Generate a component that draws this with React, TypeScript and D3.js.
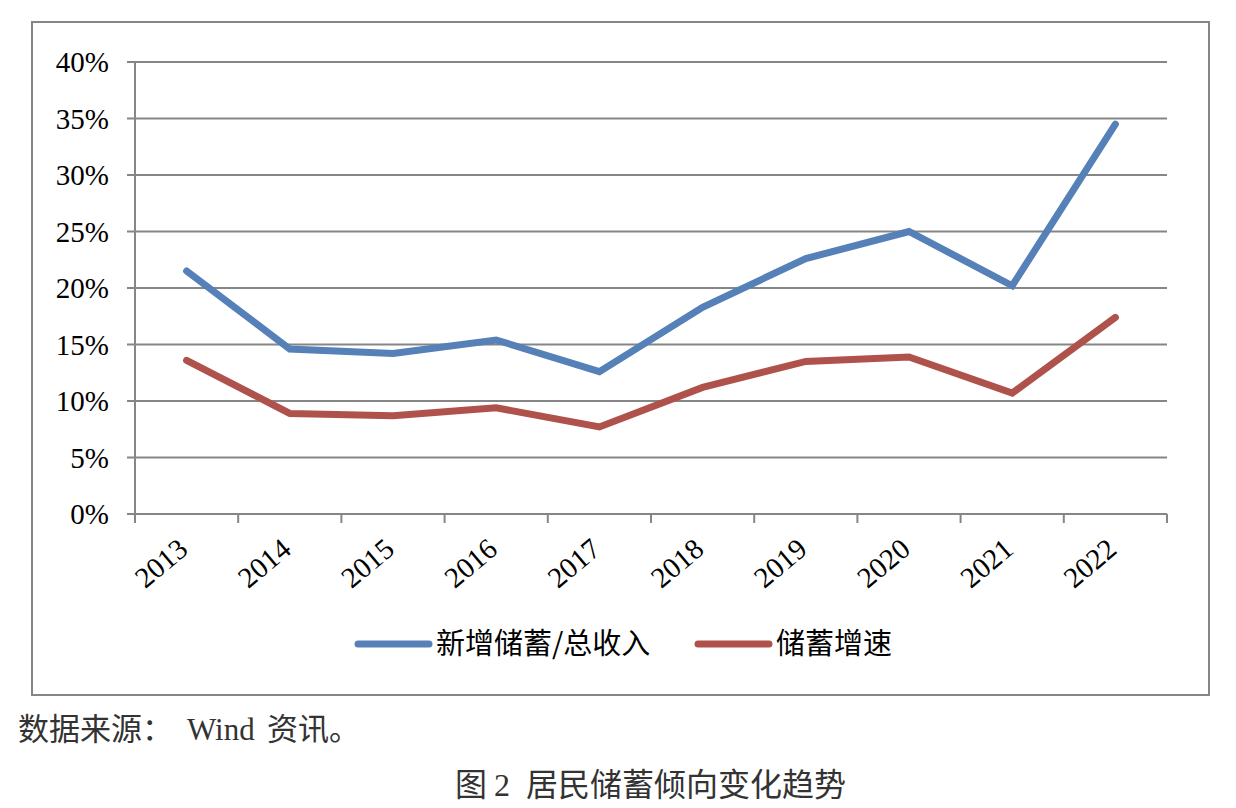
import React from "react";
import * as d3 from "d3";

const years = ["2013", "2014", "2015", "2016", "2017", "2018", "2019", "2020", "2021", "2022"];
const savingsRatio = [21.5, 14.6, 14.2, 15.4, 12.6, 18.3, 22.6, 25.0, 20.2, 34.5];
const savingsGrowth = [13.6, 8.9, 8.7, 9.4, 7.7, 11.2, 13.5, 13.9, 10.7, 17.4];
const yTicks = [0, 5, 10, 15, 20, 25, 30, 35, 40];
const seriesNames = ["新增储蓄/总收入", "储蓄增速"];
const seriesColors = ["#5580B8", "#AF524C"];

const W = 1236;
const H = 808;
const plot = { left: 135, right: 1167, top: 62, bottom: 514 };
const grid = "#868686";
const serif = "'Liberation Serif', 'Times New Roman', serif";
const cjk = "'Noto Sans CJK SC', sans-serif";

export default function App() {
  const x = d3.scaleBand<string>().domain(years).range([plot.left, plot.right]);
  const y = d3.scaleLinear().domain([0, 40]).range([plot.bottom, plot.top]);
  const line = d3
    .line<number>()
    .x((_, i) => (x(years[i]) as number) + x.bandwidth() / 2)
    .y((d) => y(d));
  const series = [savingsRatio, savingsGrowth];
  const tickXs = years.map((yr) => x(yr) as number).concat([plot.right]);

  return (
    <svg
      width={W}
      height={H}
      style={{ position: "absolute", left: 0, top: 0, background: "#fff" }}
    >
      <rect x={0} y={0} width={W} height={H} fill="#fff" />
      <rect x={32} y={22} width={1177} height={673} fill="none" stroke={grid} strokeWidth={2} />
      {yTicks.map((t) => (
        <g key={t}>
          <line x1={plot.left - 8} x2={plot.right} y1={y(t)} y2={y(t)} stroke={grid} strokeWidth={2} />
          <text
            x={109}
            y={y(t)}
            dy="0.35em"
            textAnchor="end"
            fontFamily={serif}
            fontSize={29}
            fill="#000"
          >
            {t}%
          </text>
        </g>
      ))}
      <line x1={plot.left} x2={plot.left} y1={plot.top} y2={plot.bottom + 9} stroke={grid} strokeWidth={2} />
      {tickXs.map((tx, i) => (
        <line key={i} x1={tx} x2={tx} y1={plot.bottom} y2={plot.bottom + 9} stroke={grid} strokeWidth={2} />
      ))}
      {years.map((yr) => {
        const cx = (x(yr) as number) + x.bandwidth() / 2;
        return (
          <text
            key={yr}
            transform={`translate(${cx + 3},${552}) rotate(-40)`}
            textAnchor="end"
            fontFamily={serif}
            fontSize={29}
            fill="#000"
          >
            {yr}
          </text>
        );
      })}
      {series.map((s, i) => (
        <path
          key={i}
          d={line(s) as string}
          fill="none"
          stroke={seriesColors[i]}
          strokeWidth={7}
          strokeLinecap="round"
          strokeLinejoin="miter"
        />
      ))}
      {/* legend */}
      <line x1={358} x2={429} y1={644} y2={644} stroke={seriesColors[0]} strokeWidth={7} strokeLinecap="round" />
      <text x={436} y={644} dy="0.36em" fontFamily={cjk} fontSize={29} fill="#000">
        {seriesNames[0]}
      </text>
      <line x1={698} x2={769} y1={644} y2={644} stroke={seriesColors[1]} strokeWidth={7} strokeLinecap="round" />
      <text x={776} y={644} dy="0.36em" fontFamily={cjk} fontSize={29} fill="#000">
        {seriesNames[1]}
      </text>
      {/* source & caption */}
      <text y={729} dy="0.36em" fontSize={31} fill="#333">
        <tspan x={18} fontFamily={cjk}>数据来源：</tspan>
        <tspan x={187} fontFamily={serif}>Wind</tspan>
        <tspan x={267} fontFamily={cjk}>资讯。</tspan>
      </text>
      <text y={784} dy="0.36em" fontSize={32} fill="#333">
        <tspan x={455} fontFamily={cjk}>图</tspan>
        <tspan x={494} fontFamily={serif}>2</tspan>
        <tspan x={526} fontFamily={cjk}>居民储蓄倾向变化趋势</tspan>
      </text>
    </svg>
  );
}
